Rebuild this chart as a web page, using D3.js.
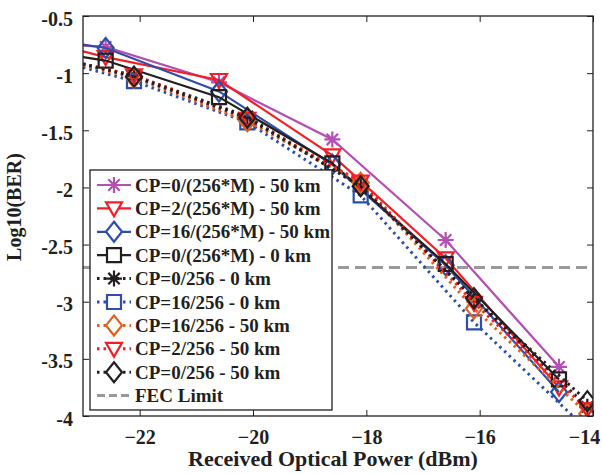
<!DOCTYPE html>
<html>
<head>
<meta charset="utf-8">
<script src="https://cdn.jsdelivr.net/npm/d3@7"></script>
<style>
  body { margin: 0; background: #fff; }
  text { font-family: "Liberation Serif", "Times New Roman", serif; font-weight: bold; fill: #231f20; }
</style>
</head>
<body>
<svg width="602" height="474"></svg>
<script>
// received optical power (dBm) for the two groups of measurements
var xSolid = [-22.6, -20.6, -18.6, -16.6, -14.6];
var xDotted = [-22.1, -20.1, -18.1, -16.1, -14.1];
var xEdge = -23;

var seriesNames = [
  "CP=0/(256*M) - 50 km",
  "CP=2/(256*M) - 50 km",
  "CP=16/(256*M) - 50 km",
  "CP=0/(256*M) - 0 km",
  "CP=0/256 - 0 km",
  "CP=16/256 - 0 km",
  "CP=16/256 - 50 km",
  "CP=2/256 - 50 km",
  "CP=0/256 - 50 km"
];

// log10(BER) values
var cp0M50 = [-0.77, -1.08, -1.58, -2.46, -3.57];
var cp2M50 = [-0.86, -1.06, -1.72, -2.62, -3.75];
var cp16M50 = [-0.78, -1.16, -1.80, -2.68, -3.79];
var cp0M0 = [-0.89, -1.21, -1.79, -2.67, -3.68];
var cp0_0 = [-1.02, -1.38, -1.99, -2.98, -3.92];
var cp16_0 = [-1.07, -1.43, -2.07, -3.18, -4.12];
var cp16_50 = [-1.04, -1.42, -1.96, -3.06, -3.98];
var cp2_50 = [-1.02, -1.40, -1.95, -3.01, -3.94];
var cp0_50 = [-1.03, -1.39, -1.99, -2.97, -3.87];

// where each line enters the plot at the left edge
var edgeValues = [-0.76, -0.81, -0.75, -0.86, -0.92, -0.95, -0.93, -0.92, -0.92];

var fecLimit = -2.7;
var xTicks = [-22, -20, -18, -16, -14];
var yTicks = [-0.5, -1, -1.5, -2, -2.5, -3, -3.5, -4];

var styles = [
  {color: "#b44fb4", marker: "star", dotted: false},
  {color: "#f21f24", marker: "tri", dotted: false},
  {color: "#2f4ea8", marker: "diamond", dotted: false},
  {color: "#231f20", marker: "square", dotted: false},
  {color: "#231f20", marker: "star", dotted: true},
  {color: "#2f4ea8", marker: "square", dotted: true},
  {color: "#e2601f", marker: "diamond", dotted: true},
  {color: "#f21f24", marker: "tri", dotted: true},
  {color: "#231f20", marker: "diamond", dotted: true}
];

var yValues = [cp0M50, cp2M50, cp16M50, cp0M0, cp0_0, cp16_0, cp16_50, cp2_50, cp0_50];

var series = seriesNames.map(function(name, i) {
  var xs = styles[i].dotted ? xDotted : xSolid;
  return {
    name: name,
    style: styles[i],
    edge: {x: xEdge, y: edgeValues[i]},
    points: xs.map(function(x, j) { return {x: x, y: yValues[i][j]}; })
  };
});

var svg = d3.select("svg"),
    margin = {top: 16, right: 9, bottom: 58, left: 83},
    width = +svg.attr("width") - margin.left - margin.right,
    height = +svg.attr("height") - margin.top - margin.bottom,
    g = svg.append("g").attr("transform", "translate(" + margin.left + "," + margin.top + ")");

var x = d3.scaleLinear().domain([-23, -14]).range([0, width]),
    y = d3.scaleLinear().domain([-4, -0.5]).range([height, 0]);

svg.append("defs").append("clipPath").attr("id", "clip")
  .append("rect").attr("width", width).attr("height", height);

function markerPath(type) {
  if (type === "star") return "M-8,0H8M0,-8V8M-5.7,-5.7L5.7,5.7M-5.7,5.7L5.7,-5.7";
  if (type === "tri") return "M-8,-6L8,-6L0,8Z";
  if (type === "diamond") return "M0,-10L8,0L0,10L-8,0Z";
  return "M-7,-7H7V7H-7Z";
}

// axes: ticks pointing inward on all four sides
g.append("g")
    .attr("transform", "translate(0," + height + ")")
    .call(d3.axisBottom(x).tickValues(xTicks).tickSize(-6).tickPadding(14).tickFormat(d3.format("d")))
    .call(function(a) { a.select(".domain").remove(); })
    .selectAll("text").style("font-size", "20px").style("font-family", null)
    .attr("dx", function(d) { return d === -14 ? "-9" : null; });

g.append("g")
    .call(d3.axisTop(x).tickValues(xTicks).tickSize(-6).tickFormat(""))
    .call(function(a) { a.select(".domain").remove(); });

g.append("g")
    .call(d3.axisLeft(y).tickValues(yTicks).tickSize(-6).tickPadding(10).tickFormat(function(d) { return d; }))
    .call(function(a) { a.select(".domain").remove(); })
    .selectAll("text").style("font-size", "20px").style("font-family", null).attr("dy", "0.45em");

g.append("g")
    .attr("transform", "translate(" + width + ",0)")
    .call(d3.axisRight(y).tickValues(yTicks).tickSize(-6).tickFormat(""))
    .call(function(a) { a.select(".domain").remove(); });

g.selectAll(".tick line").attr("stroke", "#231f20").attr("stroke-width", 1);

// FEC limit
g.append("line")
    .attr("x1", 0).attr("x2", width)
    .attr("y1", y(fecLimit)).attr("y2", y(fecLimit))
    .attr("stroke", "#999a9c").attr("stroke-width", 3)
    .attr("stroke-dasharray", "11,6");

var line = d3.line()
    .x(function(d) { return x(d.x); })
    .y(function(d) { return y(d.y); });

var plot = g.append("g").attr("clip-path", "url(#clip)");

series.forEach(function(s) {
  var sg = plot.append("g");
  sg.append("path")
      .attr("d", line([s.edge].concat(s.points)))
      .attr("fill", "none")
      .attr("stroke", s.style.color)
      .attr("stroke-width", s.style.dotted ? 3 : 2.2)
      .attr("stroke-dasharray", s.style.dotted ? "2.5,4" : null);
  sg.selectAll(".mk")
    .data(s.points)
    .enter().append("path")
      .attr("class", "mk")
      .attr("transform", function(d) { return "translate(" + x(d.x) + "," + y(d.y) + ")"; })
      .attr("d", markerPath(s.style.marker))
      .attr("fill", "none")
      .attr("stroke", s.style.color)
      .attr("stroke-width", 2.2);
});

// plot box
g.append("rect")
    .attr("width", width).attr("height", height)
    .attr("fill", "none").attr("stroke", "#231f20").attr("stroke-width", 1.3);

// legend
var legend = g.append("g").attr("transform", "translate(7,154)");
legend.append("rect")
    .attr("width", 242).attr("height", 240)
    .attr("fill", "#fff").attr("stroke", "#231f20").attr("stroke-width", 1.3);

var legendItems = series.concat([{name: "FEC Limit", style: {color: "#999a9c", fec: true}}]);

var item = legend.selectAll(".item")
  .data(legendItems)
  .enter().append("g")
    .attr("class", "item")
    .attr("transform", function(d, i) { return "translate(0," + (15 + i * 23.4) + ")"; });

item.append("line")
    .attr("x1", 7).attr("x2", 41)
    .attr("stroke", function(d) { return d.style.color; })
    .attr("stroke-width", function(d) { return d.style.fec ? 3 : (d.style.dotted ? 3 : 2.2); })
    .attr("stroke-dasharray", function(d) { return d.style.fec ? "8,4" : (d.style.dotted ? "2.5,4" : null); });

item.filter(function(d) { return !d.style.fec; })
  .append("path")
    .attr("transform", "translate(24,0)")
    .attr("d", function(d) { return markerPath(d.style.marker); })
    .attr("fill", "#fff")
    .attr("stroke", function(d) { return d.style.color; })
    .attr("stroke-width", 2.2);

item.append("text")
    .attr("x", 45)
    .attr("dy", "0.35em")
    .style("font-size", "19px")
    .text(function(d) { return d.name; });

// axis titles
svg.append("text")
    .attr("x", margin.left + width / 2 - 5)
    .attr("y", 466)
    .attr("text-anchor", "middle")
    .style("font-size", "22px")
    .text("Received Optical Power (dBm)");

svg.append("text")
    .attr("transform", "translate(21,207) rotate(-90)")
    .attr("text-anchor", "middle")
    .style("font-size", "20px")
    .text("Log10(BER)");
</script>
</body>
</html>
